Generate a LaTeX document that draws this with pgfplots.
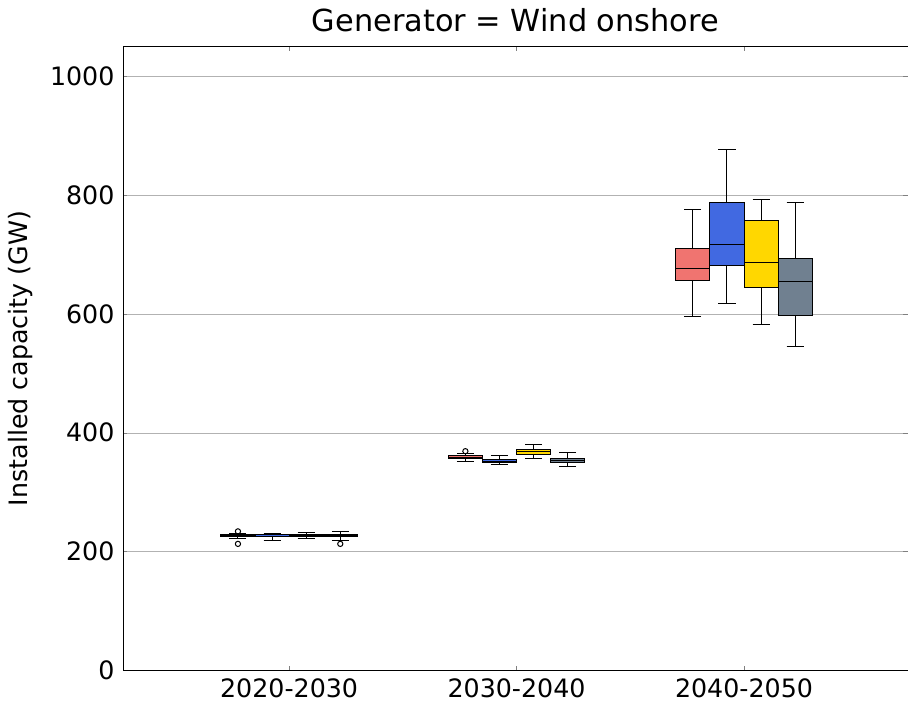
\documentclass[border=0pt]{standalone}
\usepackage{pgfplots}
\pgfplotsset{compat=1.18}
\usepgfplotslibrary{statistics}
\usepackage{fontspec}
\setmainfont{DejaVu Sans}
\definecolor{cR}{HTML}{F07470}
\definecolor{cB}{HTML}{4169E1}
\definecolor{cY}{HTML}{FFD700}
\definecolor{cG}{HTML}{708090}
\begin{document}
\fontsize{25}{30}\selectfont
\begin{tikzpicture}
\begin{axis}[
  scale only axis, width=775pt, height=616pt,
  xmin=-0.73, xmax=2.72, ymin=0, ymax=1050,
  xtick={0,1,2}, xticklabels={2020-2030,2030-2040,2040-2050},
  ytick={0,200,400,600,800,1000},
  ymajorgrids, grid style={gray!60},
  /pgf/number format/assume math mode=true,
  /pgf/number format/1000 sep={},
  ticklabel style={font=\fontsize{25}{30}\selectfont},
  ylabel={Installed capacity (GW)},
  label style={font=\fontsize{25}{30}\selectfont},
  title={Generator = Wind onshore},
  title style={font=\fontsize{30}{36}\selectfont},
  boxplot/draw direction=y,
  boxplot/box extend=0.15,
  boxplot/whisker extend=0.075,
]
\pgfplotsset{bx/.style={solid, draw=black, line width=1pt, fill=#1, mark=o, mark options={solid, draw=black, fill=white, scale=1.3}}}
% 2020-2030
\addplot[bx=cR, boxplot prepared={draw position=-0.225, lower whisker=222, lower quartile=225, median=227, upper quartile=229, upper whisker=231}] table[row sep=\\,y index=0]{234\\213\\};
\addplot[bx=cB, boxplot prepared={draw position=-0.075, lower whisker=218, lower quartile=225, median=226, upper quartile=228, upper whisker=231}] coordinates {};
\addplot[bx=cY, boxplot prepared={draw position=0.075, lower whisker=222, lower quartile=225, median=227, upper quartile=229, upper whisker=232}] coordinates {};
\addplot[bx=cG, boxplot prepared={draw position=0.225, lower whisker=219, lower quartile=225, median=227, upper quartile=229, upper whisker=233}] table[row sep=\\,y index=0]{213\\};
% 2030-2040
\addplot[bx=cR, boxplot prepared={draw position=0.775, lower whisker=352, lower quartile=357, median=359, upper quartile=362, upper whisker=365}] table[row sep=\\,y index=0]{369\\};
\addplot[bx=cB, boxplot prepared={draw position=0.925, lower whisker=346, lower quartile=350, median=352, upper quartile=355, upper whisker=362}] coordinates {};
\addplot[bx=cY, boxplot prepared={draw position=1.075, lower whisker=357, lower quartile=363.5, median=368, upper quartile=372, upper whisker=380}] coordinates {};
\addplot[bx=cG, boxplot prepared={draw position=1.225, lower whisker=343, lower quartile=350, median=353, upper quartile=357, upper whisker=367}] coordinates {};
% 2040-2050
\addplot[bx=cR, boxplot prepared={draw position=1.775, lower whisker=595, lower quartile=657, median=677, upper quartile=711, upper whisker=776}] coordinates {};
\addplot[bx=cB, boxplot prepared={draw position=1.925, lower whisker=618, lower quartile=681, median=717, upper quartile=787, upper whisker=877}] coordinates {};
\addplot[bx=cY, boxplot prepared={draw position=2.075, lower whisker=582, lower quartile=645, median=686, upper quartile=758, upper whisker=793}] coordinates {};
\addplot[bx=cG, boxplot prepared={draw position=2.225, lower whisker=546, lower quartile=597, median=654, upper quartile=694, upper whisker=788}] coordinates {};
\end{axis}
\end{tikzpicture}
\end{document}
